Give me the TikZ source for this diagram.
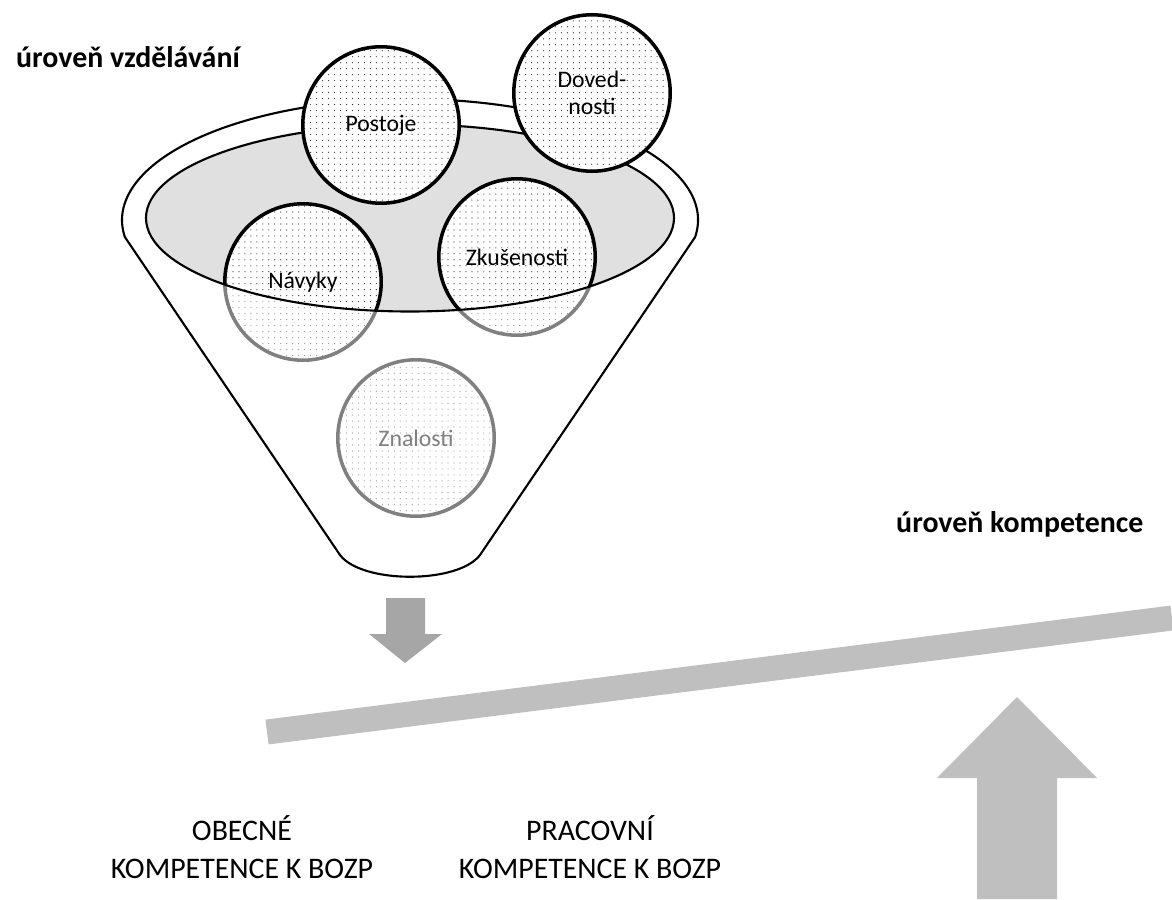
\documentclass[tikz,border=0pt]{standalone}
\usepackage{fontspec}
\setmainfont{Carlito}
\usetikzlibrary{patterns, calc}

% fine dot screen for the balls
\pgfdeclarepatternformonly{finedots}{\pgfqpoint{-0.5pt}{-0.5pt}}{\pgfqpoint{0.5pt}{0.5pt}}%
  {\pgfqpoint{3.4pt}{3.4pt}}{\pgfpathcircle{\pgfpointorigin}{0.35pt}\pgfusepath{fill}}

\begin{document}
\begin{tikzpicture}[%
    x=0.02cm, y=-0.02cm,   % one unit is one pixel of the sketch, y downwards
    ]

\tikzset{
  ball/.style={circle, draw, line width=2pt, minimum size=3.13cm, inner sep=0pt, align=center,
               preaction={fill=white}, pattern=finedots, pattern color=black!80,
               font=\fontsize{13.5}{15}\selectfont},
  level/.style={anchor=base west, font=\bfseries\fontsize{17}{20}\selectfont},
  comp/.style={align=center, font=\fontsize{17}{21.5}\selectfont},
  rim/.style={line width=1.2pt},
  bar/.style={line width=0.5cm, draw=black!25}
  };

\useasboundingbox (0,0) rectangle (1172,899);

% LEVELS
\node[level] (eduLevel) at (10,67) {úroveň vzdělávání};
\node[level] (compLevel) at (890,532) {úroveň kompetence};

% FUNNEL
\coordinate (rimC) at (410,220);
\coordinate (bowlC) at (410,218);
\fill[black!12] (bowlC) ellipse [x radius=264, y radius=93.5];

\node[ball] (navyky) at (303,282) {Návyky};
\node[ball] (zkusenosti) at (517,257) {Zkušenosti};
\node[ball] (znalosti) at (416,438) {Znalosti};

% wall of the funnel in front of the balls
\fill[white, opacity=0.5, even odd rule]
  ($(rimC)+(8.1:288 and 121)$) arc[start angle=8.1, end angle=-188.1, x radius=288, y radius=121]
  -- (340,555) .. controls (362,584) and (458,584) .. (480,555) -- cycle
  (bowlC) ellipse [x radius=264, y radius=93.5];
\draw[rim]
  ($(rimC)+(8.1:288 and 121)$) arc[start angle=8.1, end angle=-188.1, x radius=288, y radius=121]
  -- (340,555) .. controls (362,584) and (458,584) .. (480,555) -- cycle;
\draw[rim] (bowlC) ellipse [x radius=264, y radius=93.5];

\node[ball] (postoje) at (381,125) {Postoje};
\node[ball] (dovednosti) at (592,93) {Doved-\\nosti};

% LEVER
\coordinate (barL) at (267,732);
\coordinate (barR) at (1172,618);
\draw[bar] (barL) -- (barR);

\fill[black!35] (386,598) -- (425,598) -- (425,634) -- (442,634) -- (405,663)
                -- (369,634) -- (386,634) -- cycle;
\fill[black!25] (977,899) -- (977,778) -- (937,778) -- (1017,697) -- (1097,778)
                -- (1057,778) -- (1057,899) -- cycle;

\node[comp] (general) at (242,847) {OBECNÉ\\KOMPETENCE K BOZP};
\node[comp] (work) at (590,847) {PRACOVNÍ\\KOMPETENCE K BOZP};

\end{tikzpicture}
\end{document}
